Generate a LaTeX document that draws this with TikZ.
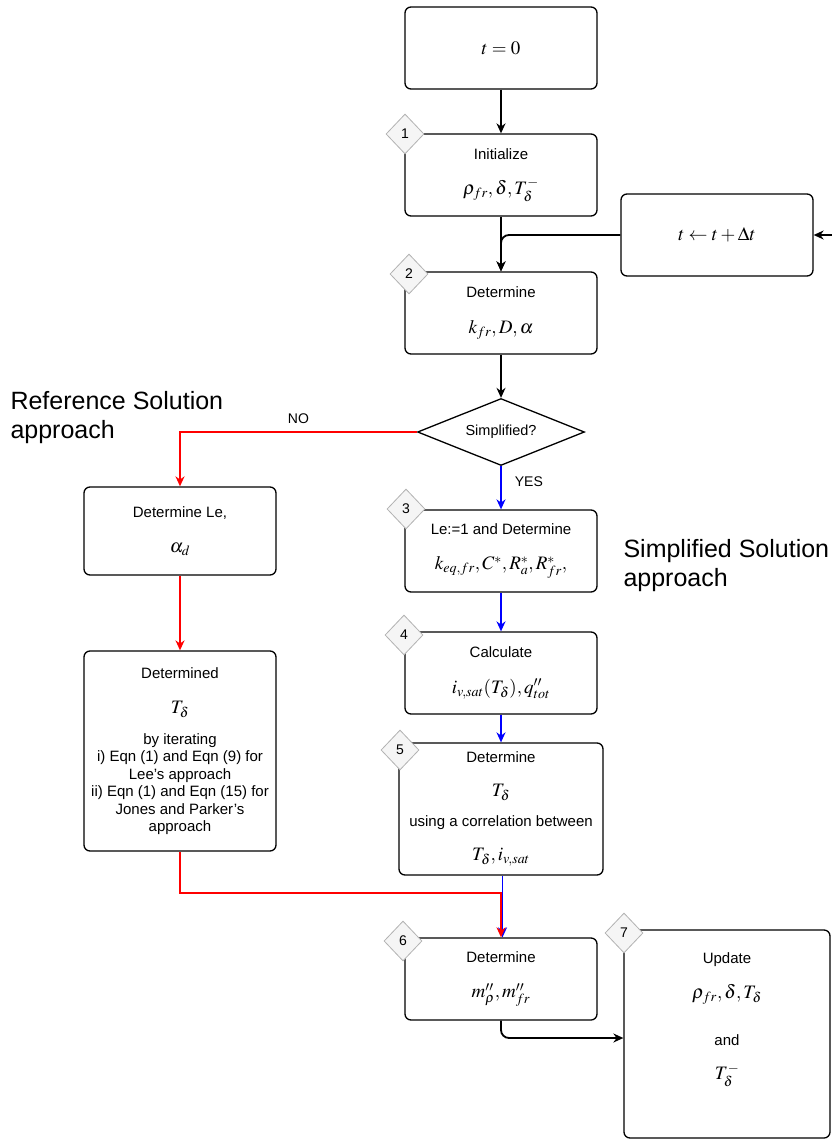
\documentclass[tikz,border=0pt]{standalone}
\usepackage{mathptmx}
\usepackage[no-math]{fontspec}
\setmainfont{Liberation Sans}
\usetikzlibrary{shapes.geometric,arrows.meta,positioning}
\newcommand{\bigmath}[1]{{\fontsize{19}{22}\selectfont$#1$}}

\begin{document}
\begin{tikzpicture}[x=1pt,y=-1pt,
	box/.style={draw,rounded corners=6pt,line width=1.3pt,minimum width=192pt,minimum height=82pt,align=center,font=\fontsize{15}{17.5}\selectfont},
	tag/.style={diamond,draw=gray!60,fill=gray!8,line width=0.8pt,minimum width=38pt,minimum height=40pt,inner sep=0pt,font=\fontsize{14}{16}\selectfont},
	decision/.style={diamond,draw,line width=1.3pt,shape aspect=2.5,minimum width=167pt,minimum height=67pt,inner sep=0pt,font=\fontsize{14.5}{16}\selectfont},
	flow/.style={line width=1.8pt,-{Stealth[length=10pt,width=9pt]}},
	big/.style={align=left,font=\fontsize{25}{29}\selectfont}]
		\useasboundingbox (0,0) rectangle (832,1140);
		% main column
		\node[box] (start) at (501,48) {\bigmath{t=0}};
		\node[box] (init) at (501,175) {Initialize\\[18pt]\bigmath{\rho_{fr},\delta,T_\delta^-}};
		\node[box] (props) at (501,313) {Determine\\[18pt]\bigmath{k_{fr},D,\alpha}};
		\node[box] (step) at (717,235) {\bigmath{t\leftarrow t+\Delta t}};
		\coordinate (loop) at (832,235);
		\node[decision] (simp) at (501,432) {Simplified?};
		% reference branch
		\node[box,minimum height=88pt] (lewis) at (180,531) {Determine Le,\\[18pt]\bigmath{\alpha_d}};
		\node[box,minimum height=200pt] (iter) at (180,751) {Determined\\[18pt]\bigmath{T_\delta}\\[13pt]by iterating\\i) Eqn (1) and Eqn (9) for\\Lee's approach\\ii) Eqn (1) and Eqn (15) for\\Jones and Parker's\\approach};
		% simplified branch
		\node[box] (simple) at (501,551) {Le:=1 and Determine\\[18pt]\bigmath{k_{eq,fr},C^*,R_a^*,R_{fr}^*,}};
		\node[box] (calc) at (501,673) {Calculate\\[18pt]\bigmath{i_{v,sat}(T_\delta),q^{\prime\prime}_{tot}}};
		\node[box,minimum width=204pt,minimum height=132pt] (corr) at (501,809) {Determine\\[17pt]\bigmath{T_\delta}\\[12pt]using a correlation between\\[17pt]\bigmath{T_\delta,i_{v,sat}}};
		\node[box] (mass) at (501,979) {Determine\\[18pt]\bigmath{m^{\prime\prime}_\rho,m^{\prime\prime}_{fr}}};
		\node[box,minimum width=206pt,minimum height=208pt] (update) at (727,1034) {Update\\[18pt]\bigmath{\rho_{fr},\delta,T_\delta}\\[29pt]and\\[17pt]\bigmath{T_\delta^-}\\[10pt]\strut};
		\coordinate (join) at (501,893);
		% side labels
		\node[big,anchor=north west] (reflabel) at (7,388) {Reference Solution\\approach};
		\node[big,anchor=north west] (simplabel) at (620,536) {Simplified Solution\\approach};
		% connectors
		\draw[flow] (start) -- (init);
		\draw[flow] (init) -- (props);
		\draw[flow,rounded corners=8pt] (step.west) -| (props.north);
		\draw[flow] (loop) -- (step.east);
		\draw[flow] (props) -- (simp);
		\draw[flow,red] (simp.west) -| node[pos=0.25,above=4pt,font=\fontsize{14}{16}\selectfont,text=black] {NO} (lewis.north);
		\draw[flow,blue] (simp.south) -- node[pos=0.35,right=12pt,fill=white,inner sep=1pt,font=\fontsize{14}{16}\selectfont,text=black] {YES} (simple.north);
		\draw[flow,red] (lewis) -- (iter);
		\draw[flow,blue] (simple) -- (calc);
		\draw[flow,blue] (calc) -- (corr);
		\draw[flow,blue] ([xshift=1.5pt]corr.south) -- ([xshift=1.5pt]mass.north);
		\draw[flow,red] (iter.south) |- (join) -- (mass.north);
		\draw[flow,rounded corners=8pt] (mass.south) |- ([yshift=-4pt]update.west);
		% step numbers
		\node[tag] (n1) at (405,134) {1};
		\node[tag] (n2) at (409,274) {2};
		\node[tag] (n3) at (406,509) {3};
		\node[tag] (n4) at (404,635) {4};
		\node[tag] (n5) at (400,750) {5};
		\node[tag] (n6) at (403,941) {6};
		\node[tag] (n7) at (624,933) {7};
	\end{tikzpicture}
\end{document}
